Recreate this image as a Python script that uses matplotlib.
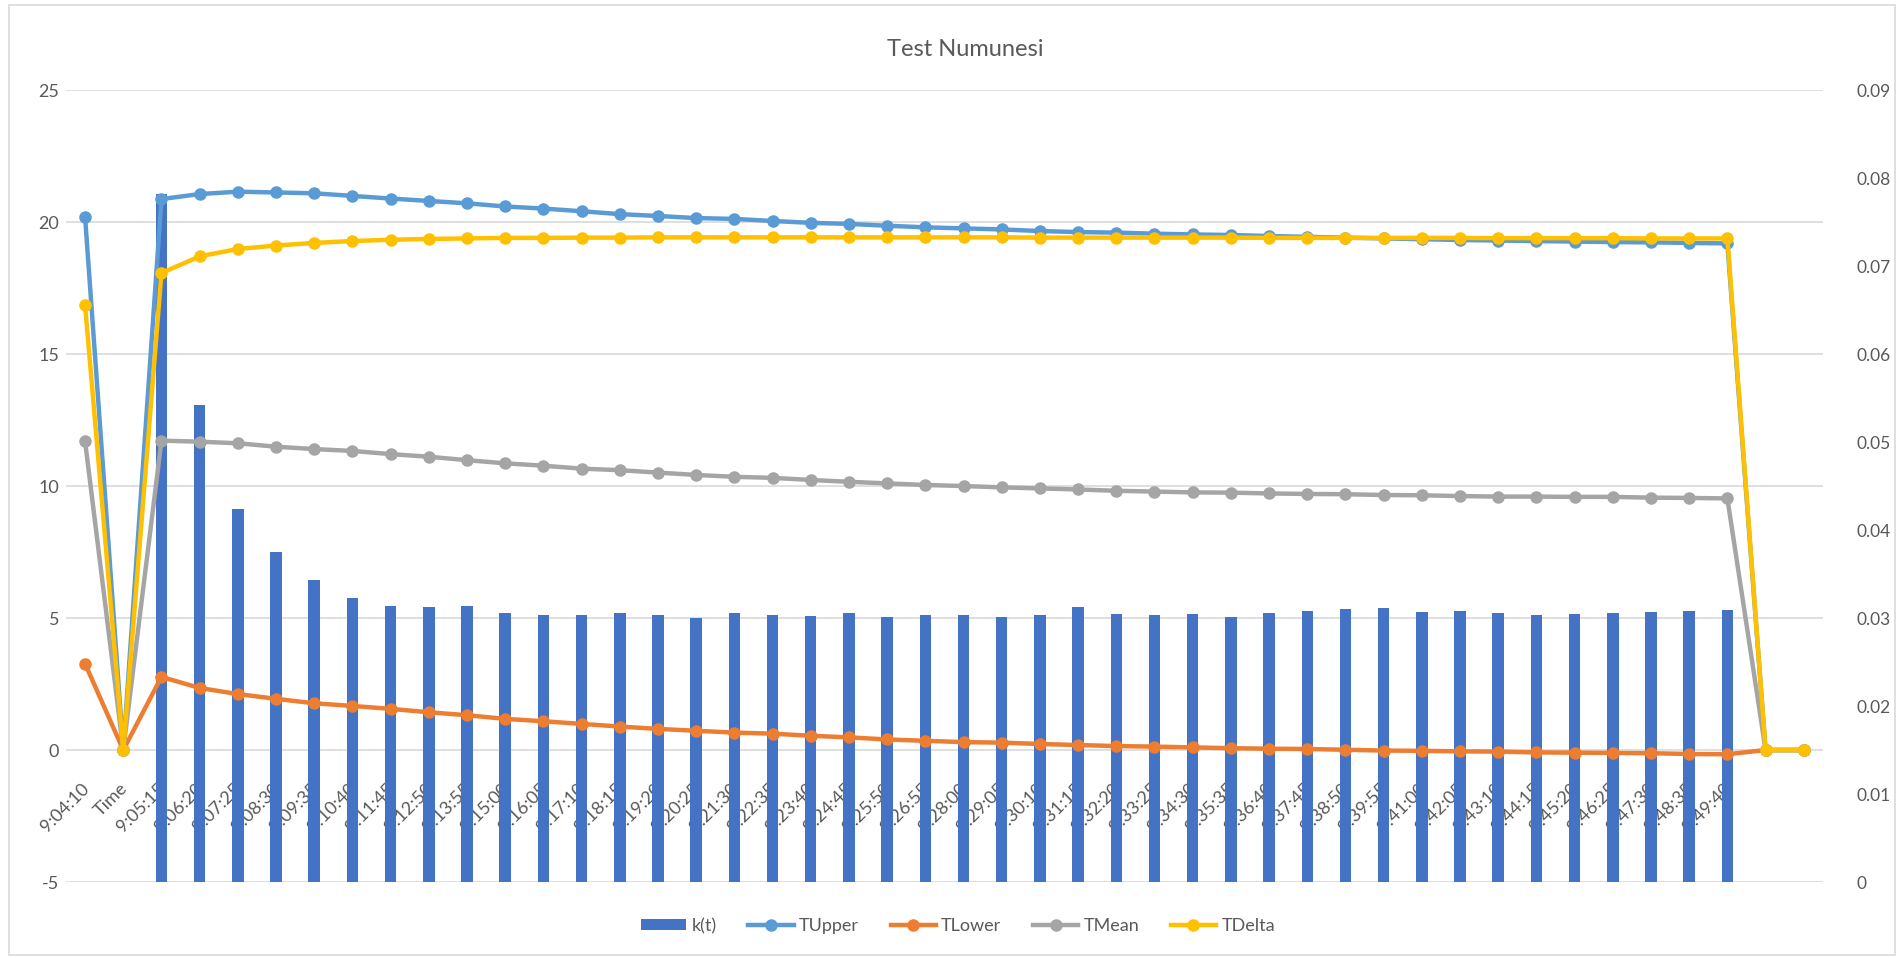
import numpy as np
import matplotlib
matplotlib.use("Agg")
import matplotlib.pyplot as plt
from matplotlib.patches import Rectangle
from matplotlib.transforms import blended_transform_factory

plt.rcParams['font.family'] = ['Lato', 'DejaVu Sans']

# categories along the x axis (sample times)
labels = ["9:04:10", "Time",
          "9:05:15", "9:06:20", "9:07:25", "9:08:30", "9:09:35", "9:10:40",
          "9:11:45", "9:12:50", "9:13:55", "9:15:00", "9:16:05", "9:17:10",
          "9:18:15", "9:19:20", "9:20:25", "9:21:30", "9:22:35", "9:23:40",
          "9:24:45", "9:25:50", "9:26:55", "9:28:00", "9:29:05", "9:30:10",
          "9:31:15", "9:32:20", "9:33:25", "9:34:30", "9:35:35", "9:36:40",
          "9:37:45", "9:38:50", "9:39:55", "9:41:00", "9:42:05", "9:43:10",
          "9:44:15", "9:45:20", "9:46:25", "9:47:30", "9:48:35", "9:49:40",
          "", ""]

nan = np.nan
k_t = [nan, nan,
       0.0782, 0.0542, 0.0424, 0.0375, 0.0343, 0.0323, 0.0314, 0.0312,
       0.0314, 0.0306, 0.0303, 0.0303, 0.0306, 0.0303, 0.0300, 0.0306,
       0.0304, 0.0302, 0.0306, 0.0301, 0.0304, 0.0304, 0.0301, 0.0304,
       0.0313, 0.0305, 0.0304, 0.0305, 0.0301, 0.0306, 0.0308, 0.0310,
       0.0311, 0.0307, 0.0308, 0.0306, 0.0303, 0.0305, 0.0306, 0.0307,
       0.0308, 0.0309,
       nan, nan]

t_upper = [20.2, 0,
           20.87, 21.06, 21.15, 21.12, 21.09, 20.99, 20.89, 20.80, 20.71,
           20.59, 20.51, 20.41, 20.30, 20.23, 20.15, 20.12, 20.04, 19.97,
           19.93, 19.86, 19.80, 19.76, 19.72, 19.66, 19.62, 19.60, 19.56,
           19.53, 19.51, 19.47, 19.44, 19.41, 19.38, 19.35, 19.32, 19.30,
           19.28, 19.26, 19.24, 19.23, 19.21, 19.19,
           0, 0]

t_lower = [3.27, 0,
           2.77, 2.35, 2.12, 1.94, 1.77, 1.67, 1.56, 1.43, 1.32, 1.18,
           1.09, 0.99, 0.89, 0.80, 0.73, 0.66, 0.62, 0.54, 0.48, 0.40,
           0.35, 0.30, 0.28, 0.23, 0.19, 0.15, 0.13, 0.10, 0.07, 0.05,
           0.04, 0.01, -0.02, -0.03, -0.05, -0.06, -0.09, -0.10, -0.11,
           -0.12, -0.15, -0.16,
           0, 0]

t_mean = [11.7, 0,
          11.72, 11.68, 11.62, 11.49, 11.40, 11.33, 11.21, 11.11, 10.98,
          10.86, 10.77, 10.66, 10.60, 10.51, 10.42, 10.35, 10.31, 10.23,
          10.16, 10.10, 10.04, 10.00, 9.95, 9.91, 9.87, 9.82, 9.79, 9.76,
          9.75, 9.72, 9.70, 9.69, 9.66, 9.65, 9.62, 9.60, 9.60, 9.59,
          9.59, 9.56, 9.55, 9.53,
          0, 0]

t_delta = [16.86, 0,
           18.07, 18.70, 18.98, 19.11, 19.21, 19.28, 19.33, 19.36, 19.38,
           19.40, 19.40, 19.41, 19.41, 19.42, 19.42, 19.42, 19.42, 19.42,
           19.42, 19.42, 19.42, 19.42, 19.42, 19.41, 19.41, 19.41, 19.41,
           19.41, 19.41, 19.40, 19.40, 19.40, 19.40, 19.40, 19.40, 19.39,
           19.39, 19.39, 19.39, 19.38, 19.38, 19.38,
           0, 0]

left_ticks = [-5, 0, 5, 10, 15, 20, 25]
right_ticks = [0, 0.01, 0.02, 0.03, 0.04, 0.05, 0.06, 0.07, 0.08, 0.09]

txt = "#595959"
grid_c = "#D9D9D9"
x = np.arange(len(labels))

fig = plt.figure(figsize=(19.01, 9.58), dpi=100)
fig.patches.append(Rectangle((9 / 1901, 3 / 958), 1886 / 1901, 950 / 958,
                             transform=fig.transFigure, fill=False,
                             edgecolor=grid_c, lw=1.2))

ax = fig.add_axes([0.0347, 0.0793, 0.9242, 0.8267])
ax2 = ax.twinx()
# lines on top of the bars
ax.set_zorder(ax2.get_zorder() + 1)
ax.patch.set_visible(False)

ax.set_xlim(-0.5, len(labels) - 0.5)
ax.set_ylim(-5, 25)
ax2.set_ylim(0, 0.09)

# horizontal gridlines follow the left axis, drawn under the bars
tr = blended_transform_factory(ax2.transAxes, ax.transData)
for v in left_ticks:
    ax2.plot([0, 1], [v, v], transform=tr, color=grid_c, lw=1.2, zorder=0)

bars = ax2.bar(x, k_t, width=0.3, color="#4472C4", zorder=3, label="k(t)")

# category labels sit below the 0 line and get covered by the bars
for i, lab in enumerate(labels):
    ax2.annotate(lab, xy=(i, 0), xycoords=ax.transData, xytext=(1, -26),
                 textcoords="offset points", ha="right", va="center",
                 rotation=45, rotation_mode="anchor", fontsize=13,
                 color=txt, zorder=1)

lw, ms = 3.2, 8
l1, = ax.plot(x, t_upper, color="#5B9BD5", lw=lw, marker="o", ms=ms, label="TUpper")
l2, = ax.plot(x, t_lower, color="#ED7D31", lw=lw, marker="o", ms=ms, label="TLower")
l3, = ax.plot(x, t_mean, color="#A5A5A5", lw=lw, marker="o", ms=ms, label="TMean")
l4, = ax.plot(x, t_delta, color="#FFC000", lw=lw, marker="o", ms=ms, label="TDelta")

ax.set_xticks([])
ax.set_yticks(left_ticks)
ax.set_yticklabels([str(v) for v in left_ticks])
ax.tick_params(axis="y", length=0, pad=5, labelsize=13, labelcolor=txt)
ax2.set_yticks(right_ticks)
ax2.set_yticklabels(["0"] + ["%.2f" % v for v in right_ticks[1:]])
ax2.tick_params(axis="y", length=0, pad=24, labelsize=12.5, labelcolor=txt)
for a in (ax, ax2):
    for s in a.spines.values():
        s.set_visible(False)

fig.text(0.508, 1 - 50 / 958, "Test Numunesi", ha="center", va="center",
         fontsize=17, color=txt)

fig.legend([bars, l1, l2, l3, l4], ["k(t)", "TUpper", "TLower", "TMean", "TDelta"],
           loc="center", bbox_to_anchor=(0.504, 1 - 926 / 958), ncol=5,
           frameon=False, fontsize=13, labelcolor=txt, handlelength=2.5,
           handleheight=0.6, columnspacing=1.75, handletextpad=0.3)

fig.savefig("out.png", dpi=100)
